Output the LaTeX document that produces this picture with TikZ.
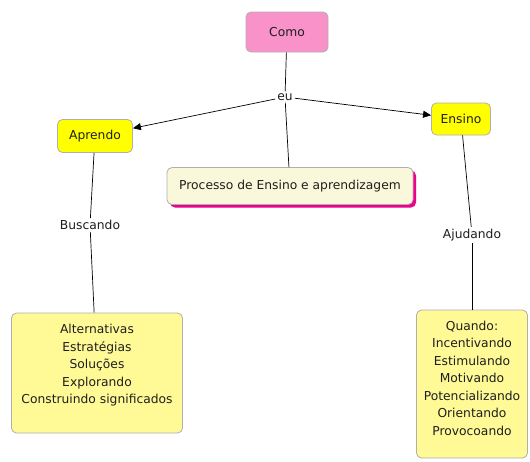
\documentclass[tikz,border=0pt]{standalone}
\usepackage{fontspec}
\setmainfont{DejaVu Sans}
\usetikzlibrary{arrows.meta,shadows}
\definecolor{pinkc}{RGB}{249,146,201}
\definecolor{yel}{RGB}{255,255,0}
\definecolor{lyel}{RGB}{255,250,150}
\definecolor{cream}{RGB}{250,248,218}
\definecolor{boxline}{RGB}{175,175,175}
\definecolor{ink}{RGB}{30,30,30}
\begin{document}
\begin{tikzpicture}[x=1pt,y=-1pt,
  concept/.style={draw=boxline, rounded corners=5pt, line width=0.8pt, text=ink,
    align=center, inner sep=0pt, font=\fontsize{12.3}{17.5}\selectfont},
  linklabel/.style={fill=white, inner sep=2pt, text=ink, font=\fontsize{12.3}{14}\selectfont},
  conn/.style={draw=black, line width=0.7pt},
  arr/.style={conn, -{Triangle[length=8pt,width=7pt]}}]
\useasboundingbox (0,0) rectangle (530,461);

% concepts
\node[concept, fill=pinkc, minimum width=82, minimum height=40] (como) at (287,32) {Como};
\node[linklabel] (eu) at (285,97) {eu};
\node[concept, fill=yel, minimum width=75, minimum height=33] (aprendo) at (95,136) {Aprendo};
\node[concept, fill=yel, minimum width=59, minimum height=32] (ensino) at (461,119) {Ensino};
\node[concept, fill=cream, minimum width=246, minimum height=37,
  drop shadow={shadow xshift=3pt, shadow yshift=-3pt, fill=magenta, opacity=1}] (proc) at (290,186) {Processo de Ensino e aprendizagem};
\node[linklabel] (busc) at (90,225) {Buscando};
\node[concept, fill=lyel, minimum width=171, minimum height=120] (alt) at (97,373)
  {Alternativas\\Estratégias\\Soluções\\Explorando\\Construindo significados\\[0pt]\mbox{}};
\node[linklabel] (ajud) at (472,235) {Ajudando};
\node[concept, fill=lyel, minimum width=111, minimum height=148] (quando) at (472,384)
  {Quando:\\Incentivando\\Estimulando\\Motivando\\Potencializando\\Orientando\\Provocoando\\[-6pt]\mbox{}};

% connectors
\draw[conn] (como) -- (eu);
\draw[arr] (eu) -- (aprendo);
\draw[arr] (eu) -- (ensino);
\draw[conn] (eu) -- (proc);
\draw[conn] (aprendo) -- (busc);
\draw[conn] (busc) -- (alt);
\draw[conn] (ensino) -- (ajud);
\draw[conn] (ajud) -- (quando);
\end{tikzpicture}
\end{document}
